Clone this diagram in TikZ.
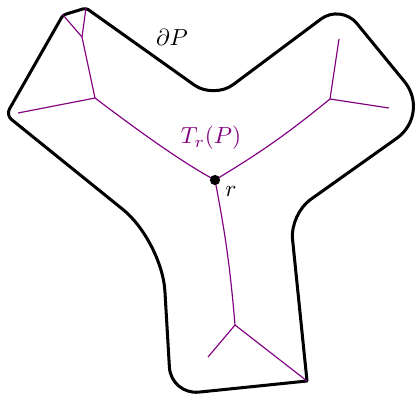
\documentclass[tikz,border=0pt]{standalone}
\usetikzlibrary{calc}
\begin{document}
\begin{tikzpicture}[x=0.43pt,y=-0.43pt,
  boundary/.style={line width=1.3pt,line join=round},
  tree/.style={violet,line width=0.5pt},
  lbl/.style={inner sep=0pt}]
\useasboundingbox (0,0) rectangle (415,393);
% polygon vertices
\coordinate (A) at (63,15);
\coordinate (B) at (86,8);
\coordinate (C) at (214,99);
\coordinate (D) at (341,4);
\coordinate (E) at (431,114);
\coordinate (F) at (290,214);
\coordinate (G) at (307,381);
\coordinate (H) at (171,395);
\coordinate (I) at (162,241);
\coordinate (J) at (6,115);
% tangent points of the rounded corners
\coordinate (J1) at (11.4,119.4); \coordinate (J2) at (9.5,108.9);
\coordinate (A1) at (61.5,17.6);  \coordinate (A2) at (65.9,14.1);
\coordinate (B1) at (83.1,8.9);   \coordinate (B2) at (88.4,9.7);
\coordinate (C1) at (194.4,85.1); \coordinate (C2) at (233.2,84.6);
\coordinate (D1) at (321.0,19.0); \coordinate (D2) at (356.8,23.4);
\coordinate (E1) at (404.4,81.5); \coordinate (E2) at (396.7,138.3);
\coordinate (F1) at (310.4,199.6);\coordinate (F2) at (292.5,238.9);
\coordinate (H1) at (198.9,392.1);\coordinate (H2) at (169.4,367.1);
\coordinate (I1) at (164.9,290.9);\coordinate (I2) at (123.1,209.6);
\draw[boundary] (J2) -- (A1)
  .. controls ($(A1)!.55!(A)$) and ($(A2)!.55!(A)$) .. (A2) -- (B1)
  .. controls ($(B1)!.55!(B)$) and ($(B2)!.55!(B)$) .. (B2) -- (C1)
  .. controls ($(C1)!.55!(C)$) and ($(C2)!.55!(C)$) .. (C2) -- (D1)
  .. controls ($(D1)!.55!(D)$) and ($(D2)!.55!(D)$) .. (D2) -- (E1)
  .. controls ($(E1)!.55!(E)$) and ($(E2)!.55!(E)$) .. (E2) -- (F1)
  .. controls ($(F1)!.55!(F)$) and ($(F2)!.55!(F)$) .. (F2) -- (G) -- (H1)
  .. controls ($(H1)!.55!(H)$) and ($(H2)!.55!(H)$) .. (H2) -- (I1)
  .. controls ($(I1)!.55!(I)$) and ($(I2)!.55!(I)$) .. (I2) -- (J1)
  .. controls ($(J1)!.55!(J)$) and ($(J2)!.55!(J)$) .. (J2) -- cycle;
% tree
\coordinate (r) at (215,180);
\coordinate (L1) at (95,98);
\coordinate (L1a) at (18,113);
\coordinate (L2) at (82,37);
\coordinate (R1) at (330,99);
\coordinate (R1a) at (339,39);
\coordinate (R1b) at (389,108);
\coordinate (Bt) at (235,325);
\coordinate (Bta) at (208,357);
\draw[tree] (r) .. controls (181,162) and (132,126) .. (L1);
\draw[tree] (L1) -- (L1a);
\draw[tree] (L1) -- (L2);
\draw[tree] (L2) -- (A);
\draw[tree] (L2) -- (B);
\draw[tree] (r) to[bend right=4] (R1);
\draw[tree] (R1) -- (R1a);
\draw[tree] (R1) -- (R1b);
\draw[tree] (r) to[bend left=3] (Bt);
\draw[tree] (Bt) -- (Bta);
\draw[tree] (Bt) -- (G);
\fill (r) circle[radius=2.2pt];
% labels
\node[lbl] (dP) at (172,37) {$\partial P$};
\node[lbl,text=violet] (TP) at (211,138) {$T_r(P)$};
\node[lbl] (rl) at (231,191) {$r$};
\end{tikzpicture}
\end{document}
